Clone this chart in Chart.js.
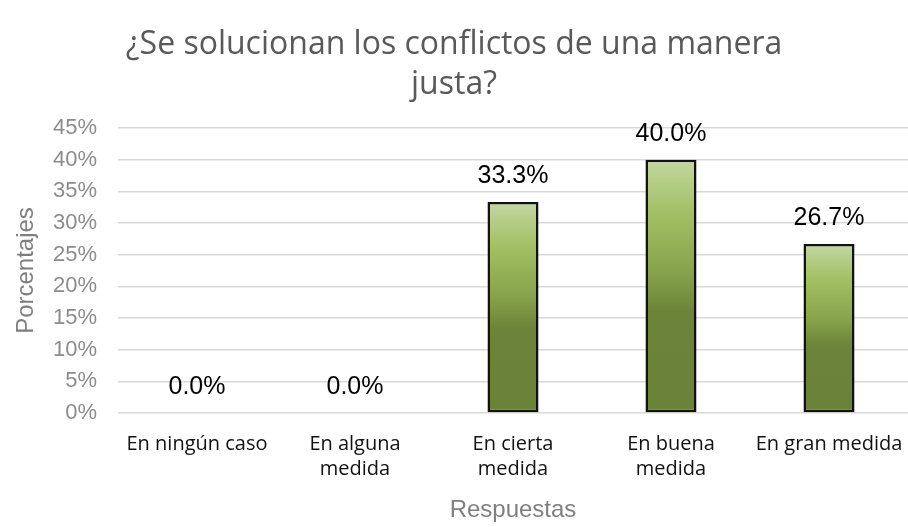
<!DOCTYPE html>
<html lang="es">
  <head>
    <meta charset="utf-8">
    <script src="https://cdn.jsdelivr.net/npm/chart.js@4.4.0/dist/chart.umd.min.js"></script>
    <style>
      html, body { margin: 0; padding: 0; background: #fff; }
    </style>
  </head>
  <body>
    <canvas id="chart" width="908" height="527"></canvas>

    <script>
      // chart data
      var categories = [
        ['En ningún caso'],
        ['En alguna', 'medida'],
        ['En cierta', 'medida'],
        ['En buena', 'medida'],
        ['En gran medida']
      ];
      var percents = [0.0, 0.0, 33.3, 40.0, 26.7];
      var yTicks = [0, 5, 10, 15, 20, 25, 30, 35, 40, 45];

      var titleLines = ['¿Se solucionan los conflictos de una manera', 'justa?'];

      function barFill(ctx) {
        var chart = ctx.chart;
        if (!chart.chartArea || !chart.scales.y) return '#7f9c47';
        var ys = chart.scales.y;
        var top = ys.getPixelForValue(ctx.parsed.y);
        var base = ys.getPixelForValue(0);
        if (base - top < 1) return '#7f9c47';
        var g = chart.ctx.createLinearGradient(0, top, 0, base);
        g.addColorStop(0, '#c3d7a0');
        g.addColorStop(0.22, '#a0bf62');
        g.addColorStop(0.45, '#87a24c');
        g.addColorStop(0.6, '#6b8439');
        g.addColorStop(1, '#6a8238');
        return g;
      }

      // value labels over each bar
      var valueLabels = {
        id: 'valueLabels',
        afterDatasetsDraw: function (chart) {
          var c = chart.ctx;
          var meta = chart.getDatasetMeta(0);
          c.save();
          c.font = '25px "Liberation Sans", Arial, sans-serif';
          c.fillStyle = '#000';
          c.textAlign = 'center';
          c.textBaseline = 'middle';
          meta.data.forEach(function (bar, i) {
            c.fillText(percents[i].toFixed(1) + '%', bar.x, bar.y - 26);
          });
          c.restore();
        }
      };

      var chart = new Chart(document.getElementById('chart').getContext('2d'), {
        type: 'bar',
        data: {
          labels: categories,
          datasets: [{
            data: percents,
            backgroundColor: barFill,
            borderColor: '#111',
            borderWidth: 2.5,
            borderSkipped: false,
            barPercentage: 0.323,
            categoryPercentage: 1
          }]
        },
        options: {
          responsive: false,
          animation: false,
          layout: { padding: { left: 0, right: 0, top: 0, bottom: 2 } },
          plugins: {
            legend: { display: false },
            tooltip: { enabled: false },
            title: {
              display: true,
              text: titleLines,
              color: '#595959',
              font: { family: '"Open Sans", sans-serif', size: 32, weight: 'normal', lineHeight: 1.25 },
              padding: { top: 25, bottom: 23 }
            }
          },
          scales: {
            x: {
              afterFit: function (axis) {
                axis.height = 112;
                axis.paddingLeft = 0;
                axis.paddingRight = 0;
              },
              grid: { display: false, drawTicks: false },
              border: { display: false },
              ticks: {
                color: '#111',
                font: { family: '"Open Sans", sans-serif', size: 20, lineHeight: 1.25 },
                padding: 19,
                maxRotation: 0,
                autoSkip: false
              },
              title: {
                display: true,
                text: 'Respuestas',
                color: '#7f7f7f',
                font: { family: '"Liberation Sans", Arial, sans-serif', size: 24 },
                padding: { top: 11, bottom: 0 }
              }
            },
            y: {
              min: 0,
              max: 45,
              afterBuildTicks: function (axis) {
                axis.ticks = yTicks.map(function (v) { return { value: v }; });
              },
              afterFit: function (axis) {
                axis.width = 118;
                axis.paddingTop = 0;
                axis.paddingBottom = 0;
              },
              grid: { color: '#d9d9d9', lineWidth: 1.5, drawTicks: false },
              border: { display: false },
              ticks: {
                color: '#8c8c8c',
                font: { family: '"Liberation Sans", Arial, sans-serif', size: 22 },
                padding: 21,
                autoSkip: false,
                callback: function (v) { return v + '%'; }
              },
              title: {
                display: true,
                text: 'Porcentajes',
                color: '#7f7f7f',
                font: { family: '"Liberation Sans", Arial, sans-serif', size: 24 },
                padding: { top: 12, bottom: 0 }
              }
            }
          }
        },
        plugins: [valueLabels]
      });
    </script>
  </body>
</html>
